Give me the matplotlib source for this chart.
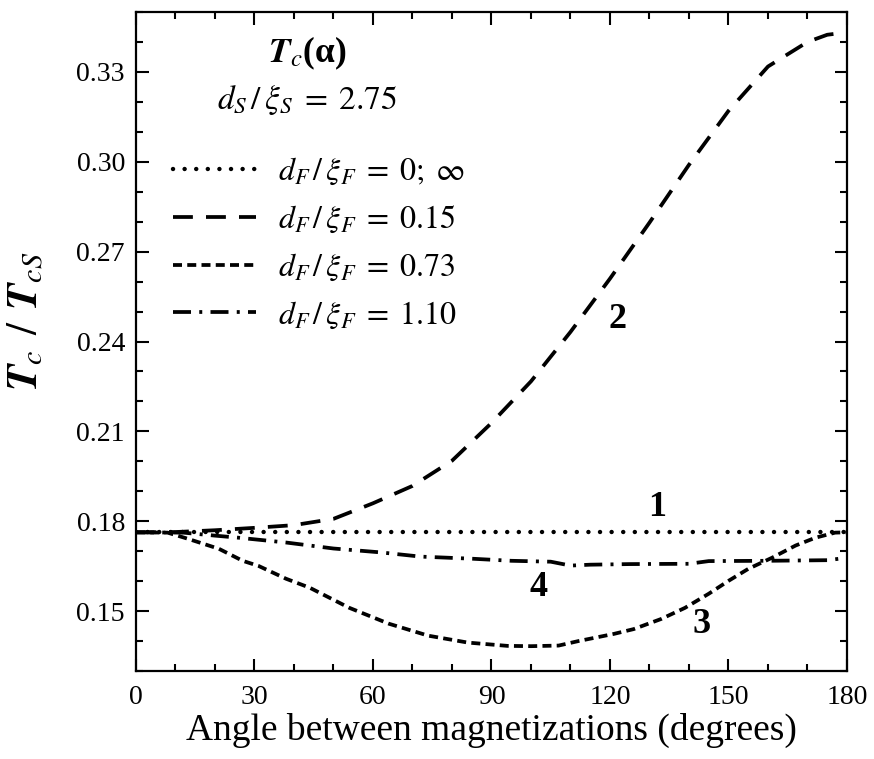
import numpy as np
import matplotlib
matplotlib.use('Agg')
import matplotlib.pyplot as plt

plt.rcParams['font.family'] = ['Liberation Serif', 'DejaVu Serif']
plt.rcParams['mathtext.fontset'] = 'stix'

# curve 1: dF/xiF = 0; inf  (flat)
ang1 = [0, 180]
tc1 = [0.1763, 0.1763]

# curve 2: dF/xiF = 0.15
ang2 = [0, 10, 20, 30, 40, 50, 60, 70, 80, 90, 100, 110, 120, 130, 140, 150, 160, 170, 175, 180]
tc2 = [0.1763, 0.1764, 0.1770, 0.1778, 0.1787, 0.1808, 0.1860, 0.1918, 0.2002, 0.2128,
       0.2267, 0.2432, 0.2610, 0.2797, 0.2990, 0.3170, 0.3318, 0.3400, 0.3424, 0.3432]

# curve 3: dF/xiF = 0.73
ang3 = [0, 8, 13, 21, 27, 31, 38, 44, 54, 64, 74, 84, 94, 100, 107, 112, 121, 126, 133, 139,
        145, 150, 155, 161, 167, 172, 177, 180]
tc3 = [0.1763, 0.1762, 0.1742, 0.1708, 0.1668, 0.1651, 0.1608, 0.1578, 0.1511, 0.1458,
       0.1418, 0.1395, 0.1384, 0.1383, 0.1385, 0.1400, 0.1424, 0.1440, 0.1474, 0.1511,
       0.1558, 0.1601, 0.1641, 0.1678, 0.1719, 0.1745, 0.1762, 0.1763]

# curve 4: dF/xiF = 1.10
ang4 = [0, 12, 20, 26, 38, 50, 62, 72, 85, 95, 105, 110, 115, 125, 140, 145, 160, 175, 180]
tc4 = [0.1763, 0.1762, 0.1752, 0.1745, 0.1729, 0.1709, 0.1696, 0.1682, 0.1675, 0.1668,
       0.1665, 0.1652, 0.1655, 0.1657, 0.1658, 0.1667, 0.1668, 0.1670, 0.1678]

labels = [r'$d_F\,/\,\xi_F\;=\;0;\;\infty$', r'$d_F\,/\,\xi_F\;=\;0.15$',
          r'$d_F\,/\,\xi_F\;=\;0.73$', r'$d_F\,/\,\xi_F\;=\;1.10$']

# curve number labels (angle, Tc/TcS)
num_text = ['1', '2', '3', '4']
num_x = [132, 121.8, 143.3, 101.8]
num_y = [0.1846, 0.2472, 0.1457, 0.1578]

fig = plt.figure(figsize=(8.74, 7.59), dpi=100)
ax = fig.add_axes([0.1556, 0.1159, 0.8135, 0.8683])

lw = 2.7
ax.plot(ang1, tc1, color='black', lw=3.2, linestyle=(0, (0.01, 2.6)), dash_capstyle='round', label=labels[0])
ax.plot(ang2, tc2, color='black', lw=lw, linestyle=(0, (5.3, 3.5)), label=labels[1])
ax.plot(ang3, tc3, color='black', lw=lw, linestyle=(0, (2.4, 1.4)), label=labels[2])
ax.plot(ang4, tc4, color='black', lw=lw, linestyle=(0, (4.8, 2.2, 0.8, 2.2)), label=labels[3])

ax.set_xlim(0, 180)
ax.set_ylim(0.13, 0.35)
ax.set_xticks(np.arange(0, 181, 30))
ax.set_xticks(np.arange(0, 181, 10), minor=True)
ax.set_yticks([0.15, 0.18, 0.21, 0.24, 0.27, 0.30, 0.33])
ax.set_yticks(np.arange(0.13, 0.351, 0.01), minor=True)
ax.set_yticklabels(['0.15', '0.18', '0.21', '0.24', '0.27', '0.30', '0.33'])

ax.tick_params(which='both', direction='in', top=True, right=True, width=1.5, labelsize=20)
ax.tick_params(which='major', length=9)
ax.tick_params(which='minor', length=5)
ax.tick_params(axis='x', pad=10)
ax.tick_params(axis='y', pad=8)
for s in ax.spines.values():
    s.set_linewidth(1.6)

ax.set_xlabel('Angle between magnetizations (degrees)', fontsize=27, labelpad=2)
ax.set_ylabel(r'$\mathbfit{T}_c\;\,/\;\,\mathbfit{T}_{cS}$', fontsize=31)
ax.yaxis.set_label_coords(-0.125, 0.53)

ax.text(0.2405, 0.938, r'$\mathbfit{T}_c$(α)', transform=ax.transAxes, ha='center', va='center',
        fontsize=25.5, fontweight='bold')
ax.text(0.2405, 0.866, r'$d_S\,/\,\xi_S\;=\;2.75$', transform=ax.transAxes, ha='center', va='center',
        fontsize=24)

ax.legend(loc='upper left', bbox_to_anchor=(0.02, 0.815), frameon=False, fontsize=23,
          handlelength=2.6, handletextpad=0.69, labelspacing=0.52, borderpad=0.2)

for t, x, y in zip(num_text, num_x, num_y):
    ax.text(x, y, t, fontsize=26, fontweight='bold', ha='center', va='center')

fig.savefig('out.png', dpi=100)
